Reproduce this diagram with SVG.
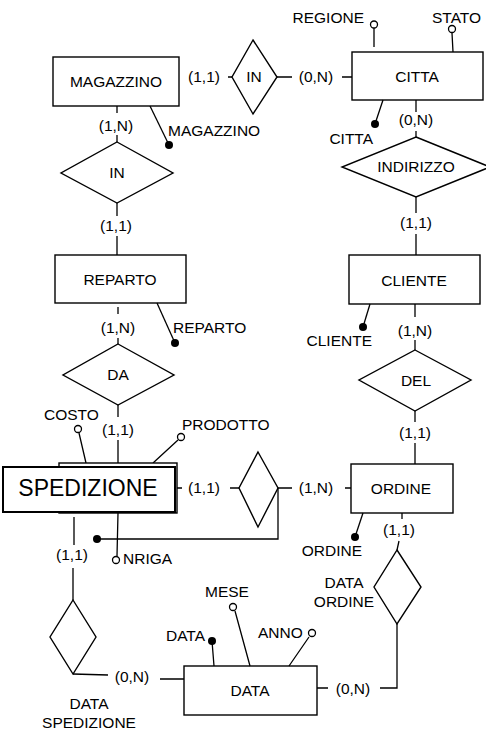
<svg xmlns="http://www.w3.org/2000/svg" width="486" height="736" viewBox="0 0 486 736">
  <style>
    text { font-family: "Liberation Sans", Arial, Helvetica, sans-serif; font-size: 15.5px; fill: #000; }
    .c { text-anchor: middle; }
    .e { text-anchor: end; }
    .big { font-size: 23px; }
    .box { fill: #fff; stroke: #000; stroke-width: 1.4; }
    .wbox { fill: #fff; stroke: #000; stroke-width: 2; }
    .rel { fill: #fff; stroke: #000; stroke-width: 1.4; }
    .ln { fill: none; stroke: #000; stroke-width: 1.3; }
    .key { fill: #000; stroke: none; }
    .att { fill: #fff; stroke: #000; stroke-width: 1.3; }
  </style>

  <!-- connectors between entities and relationships, with cardinalities -->
  <g id="connectors">
    <!-- MAGAZZINO - IN - CITTA -->
    <path class="ln" d="M228 77H232M277 77H292M342 77H352"/>
    <text class="c" x="204" y="82">(1,1)</text>
    <text class="c" x="316" y="82">(0,N)</text>
    <!-- MAGAZZINO - IN - REPARTO -->
    <path class="ln" d="M117 106V113M117 135V142M117 203V216M117 236V255"/>
    <text class="c" x="116" y="131">(1,N)</text>
    <text class="c" x="116" y="231">(1,1)</text>
    <!-- REPARTO - DA - SPEDIZIONE -->
    <path class="ln" d="M118 307V314M118 338V344M118 405V417M118 440V463"/>
    <text class="c" x="118" y="333">(1,N)</text>
    <text class="c" x="118" y="435">(1,1)</text>
    <!-- CITTA - INDIRIZZO - CLIENTE -->
    <path class="ln" d="M416 100V112M416 131V137M416 197V213M416 234V255"/>
    <text class="c" x="416" y="125">(0,N)</text>
    <text class="c" x="416" y="228">(1,1)</text>
    <!-- CLIENTE - DEL - ORDINE -->
    <path class="ln" d="M415 304V317M415 340V350M415 411V422M415 443V464"/>
    <text class="c" x="415" y="336">(1,N)</text>
    <text class="c" x="415" y="438">(1,1)</text>
    <!-- SPEDIZIONE - relationship - ORDINE -->
    <path class="ln" d="M177 488H182M230 488H239M278 488H292M345 488H351"/>
    <text class="c" x="204" y="493">(1,1)</text>
    <text class="c" x="316" y="493">(1,N)</text>
    <!-- ORDINE - DATA ORDINE - DATA -->
    <path class="ln" d="M402 513V519M399 541L397 550M397 624V688H380M328 688H317"/>
    <text class="c" x="399" y="535">(1,1)</text>
    <text class="c" x="353" y="694">(0,N)</text>
    <!-- SPEDIZIONE - DATA SPEDIZIONE - DATA -->
    <path class="ln" d="M74 517V545M73 568V600M73 674L108 675M160 679H184"/>
    <text class="c" x="72" y="560">(1,1)</text>
    <text class="c" x="132" y="682">(0,N)</text>
  </g>

  <!-- relationships -->
  <g id="rel-in-citta">
    <polygon class="rel" points="253,40 277,77 253,114 232,77"/>
    <text class="c" x="254" y="82">IN</text>
  </g>
  <g id="rel-in-reparto">
    <polygon class="rel" points="117,142 173,173 117,203 61,173"/>
    <text class="c" x="117" y="178">IN</text>
  </g>
  <g id="rel-indirizzo">
    <polygon class="rel" points="416,137 490,167 416,197 342,167"/>
    <text class="c" x="416" y="172">INDIRIZZO</text>
  </g>
  <g id="rel-da">
    <polygon class="rel" points="118,344 174,375 118,405 63,375"/>
    <text class="c" x="118" y="380">DA</text>
  </g>
  <g id="rel-del">
    <polygon class="rel" points="415,350 471,380 415,411 359,380"/>
    <text class="c" x="416" y="386">DEL</text>
  </g>
  <g id="rel-spedizione-ordine">
    <polygon class="rel" points="258,452 278,488 258,527 239,488"/>
  </g>
  <g id="rel-data-ordine">
    <polygon class="rel" points="397,550 421,587 397,624 374,587"/>
    <text class="c" x="344" y="588">DATA</text>
    <text class="c" x="344" y="607">ORDINE</text>
  </g>
  <g id="rel-data-spedizione">
    <polygon class="rel" points="73,600 96,637 73,674 50,637"/>
    <text class="c" x="89" y="709">DATA</text>
    <text class="c" x="89" y="728">SPEDIZIONE</text>
  </g>

  <!-- entities with their attributes -->
  <g id="magazzino">
    <rect class="box" x="53" y="57" width="126" height="49"/>
    <text class="c" x="116" y="87">MAGAZZINO</text>
    <path class="ln" d="M150 106L169 145"/>
    <circle class="key" cx="169" cy="145" r="4"/>
    <text x="168" y="136">MAGAZZINO</text>
  </g>
  <g id="citta">
    <rect class="box" x="352" y="52" width="131" height="48"/>
    <text class="c" x="417" y="82">CITTA</text>
    <path class="ln" d="M374 28V47M452 33L453 52M383 100L375 124"/>
    <circle class="att" cx="374" cy="24.5" r="3.5"/>
    <text class="e" x="364" y="23">REGIONE</text>
    <circle class="att" cx="452" cy="29" r="3.5"/>
    <text x="432" y="23">STATO</text>
    <circle class="key" cx="375" cy="124" r="4"/>
    <text class="e" x="373" y="144">CITTA</text>
  </g>
  <g id="reparto">
    <rect class="box" x="55" y="255" width="131" height="48"/>
    <text class="c" x="120" y="285">REPARTO</text>
    <path class="ln" d="M157 303L175 343"/>
    <circle class="key" cx="175" cy="343" r="4"/>
    <text x="173" y="333">REPARTO</text>
  </g>
  <g id="cliente">
    <rect class="box" x="349" y="255" width="131" height="49"/>
    <text class="c" x="414" y="286">CLIENTE</text>
    <path class="ln" d="M370 304L363 327"/>
    <circle class="key" cx="363" cy="327" r="4"/>
    <text class="e" x="372" y="346">CLIENTE</text>
  </g>
  <g id="ordine">
    <rect class="box" x="351" y="464" width="102" height="49"/>
    <text class="c" x="401" y="494">ORDINE</text>
    <path class="ln" d="M363 513L355 537"/>
    <circle class="key" cx="355" cy="537" r="4"/>
    <text class="e" x="362" y="556">ORDINE</text>
  </g>
  <g id="spedizione">
    <path class="ln" d="M79 433L86 463M178 440L153 463M118 513L117 556"/>
    <circle class="att" cx="78" cy="429" r="3.5"/>
    <text x="44" y="420">COSTO</text>
    <circle class="att" cx="181" cy="437" r="3.5"/>
    <text x="182" y="430">PRODOTTO</text>
    <circle class="att" cx="116" cy="560" r="3.5"/>
    <text x="123" y="564">NRIGA</text>
    <rect class="box" x="59" y="463" width="118" height="50"/>
    <rect class="wbox" x="3" y="467" width="172" height="45"/>
    <text class="c big" x="88" y="496">SPEDIZIONE</text>
    <!-- external identifier through the relationship with ORDINE -->
    <path class="ln" d="M97 539H278V488"/>
    <circle class="key" cx="97" cy="539" r="4"/>
  </g>
  <g id="data">
    <rect class="box" x="184" y="666" width="133" height="49"/>
    <text class="c" x="250" y="696">DATA</text>
    <path class="ln" d="M212 641L214 666M235 611L250 666M309 637L289 666"/>
    <circle class="key" cx="212" cy="641" r="4"/>
    <text class="e" x="205" y="641">DATA</text>
    <circle class="att" cx="233" cy="607" r="3.5"/>
    <text x="205" y="597">MESE</text>
    <circle class="att" cx="312" cy="633" r="3.5"/>
    <text x="258" y="638">ANNO</text>
  </g>
</svg>
